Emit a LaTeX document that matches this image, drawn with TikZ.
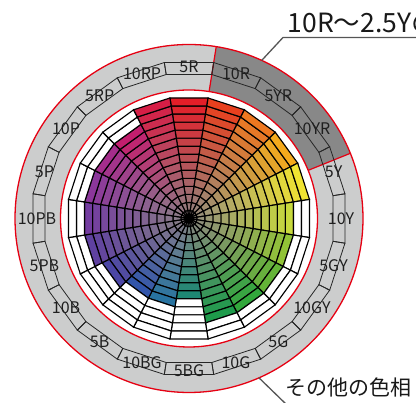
\documentclass[tikz,border=0pt]{standalone}
\usepackage{fontspec}
\setmainfont{Noto Sans CJK JP}
\usetikzlibrary{calc}
\definecolor{ringgray}{RGB}{204,205,205}
\definecolor{darksec}{RGB}{136,136,136}
\definecolor{cred}{RGB}{230,0,18}
\definecolor{cgray}{RGB}{140,132,132}
\definecolor{leadgray}{RGB}{85,85,85}
\definecolor{h0}{RGB}{228,30,40}
\definecolor{h1}{RGB}{232,64,30}
\definecolor{h2}{RGB}{238,120,32}
\definecolor{h3}{RGB}{244,170,28}
\definecolor{h4}{RGB}{240,228,50}
\definecolor{h5}{RGB}{200,218,60}
\definecolor{h6}{RGB}{145,195,55}
\definecolor{h7}{RGB}{100,180,55}
\definecolor{h8}{RGB}{50,168,60}
\definecolor{h9}{RGB}{30,155,75}
\definecolor{h10}{RGB}{30,135,115}
\definecolor{h11}{RGB}{40,115,160}
\definecolor{h12}{RGB}{50,85,170}
\definecolor{h13}{RGB}{75,70,165}
\definecolor{h14}{RGB}{95,65,160}
\definecolor{h15}{RGB}{115,60,160}
\definecolor{h16}{RGB}{140,55,155}
\definecolor{h17}{RGB}{165,45,140}
\definecolor{h18}{RGB}{195,30,110}
\definecolor{h19}{RGB}{215,30,70}
\tikzset{
  huelabel/.style={font=\fontsize{16}{16}\selectfont, inner sep=0pt, text=black!88},
  labelbox/.style={draw=black!85, line width=0.8pt},
  cellline/.style={draw=black, line width=1.15pt},
  leader/.style={draw=leadgray, line width=1.3pt},
  bigtext/.style={inner sep=0pt, text=black!90}
}
\begin{document}
\begin{tikzpicture}[x=1pt,y=1pt]
\useasboundingbox (0,0) rectangle (416,403);
\clip (0,0) rectangle (416,403);
\coordinate (C) at (189,184.5);
\begin{scope}[shift={(C)}]
  % label ring background
  \fill[ringgray,even odd rule] (0,0) circle (174) (0,0) circle (128.5);
  \fill[darksec] (22:128.5) arc (22:81:128.5) -- (81:174) arc (81:22:174) -- cycle;
  \draw[cred, line width=1.2pt] (22:128.5) -- (22:174) (81:128.5) -- (81:174);
  \draw[cred, line width=1.3pt] (0,0) circle (174) (0,0) circle (128.5);
  % label boxes
  \foreach \kk/\lab in {0/5R,1/10R,2/5YR,3/10YR,4/5Y,5/10Y,6/5GY,7/10GY,8/5G,9/10G,10/5BG,11/10BG,12/5B,13/10B,14/5PB,15/10PB,16/5P,17/10P,18/5RP,19/10RP}{
    \pgfmathsetmacro\ang{90-18*\kk}
    \draw[labelbox] (\ang-9:145.8) -- (\ang+9:145.8) -- (\ang+9:157.9) -- (\ang-9:157.9) -- cycle;
    \node[huelabel] (lab\kk) at (\ang:152) {\lab};
  }
  % colour wheel
  \foreach \kk/\nn in {0/15,1/15,2/15,3/15,4/15,5/13,6/13,7/13,8/13,9/13,10/10,11/11,12/11,13/12,14/13,15/13,16/13,17/13,18/13,19/15}{
    \pgfmathsetmacro\ang{90-18*\kk}
    \foreach \ii in {1,...,15}{
      \pgfmathsetmacro\ra{120.5*(\ii-1)/15/cos(9)}
      \pgfmathsetmacro\rb{120.5*\ii/15/cos(9)}
      \ifnum\ii>\nn\relax
        \def\cellcol{white}
      \else
        \pgfmathtruncatemacro\cpct{100*\ii/\nn}
        \edef\cellcol{h\kk!\cpct!cgray}
      \fi
      \filldraw[cellline, fill=\cellcol] (\ang-9:\ra) -- (\ang-9:\rb) -- (\ang+9:\rb) -- (\ang+9:\ra) -- cycle;
    }
  }
  \fill[black] (0,0) circle (4.5);
\end{scope}
% leaders and captions
\coordinate (T0) at ($(C)+(65.3:174)$);
\coordinate (T1) at (283,365.5);
\coordinate (T2) at (425,365.5);
\draw[leader] (T0) -- (T1) -- (T2);
\node[bigtext, anchor=base west, font=\fontsize{26.5}{26.5}\selectfont] (toptext) at (287.5,370) {10R～2.5Yの色相};
\coordinate (B0) at ($(C)+(-66.3:174)$);
\coordinate (B1) at (288,-3);
\draw[leader] (B0) -- (B1);
\node[bigtext, anchor=base west, font=\fontsize{21}{21}\selectfont] (bottext) at (285,7.5) {その他の色相};
\end{tikzpicture}
\end{document}
